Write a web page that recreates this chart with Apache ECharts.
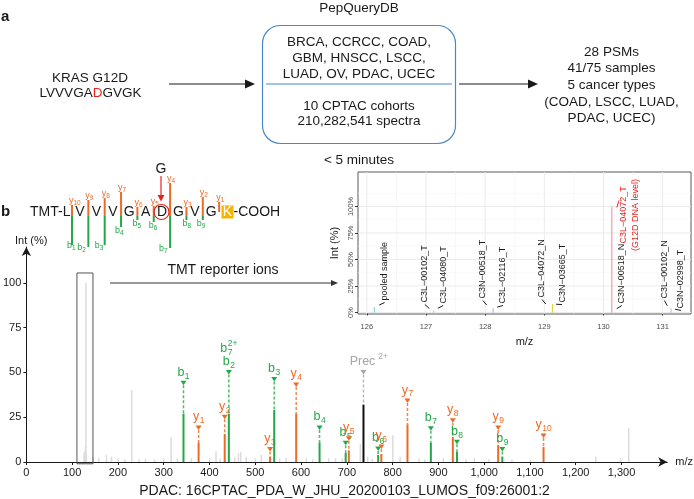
<!DOCTYPE html>
<html><head><meta charset="utf-8">
<script src="https://cdn.jsdelivr.net/npm/echarts@6/dist/echarts.min.js"></script>
<style>html,body{margin:0;padding:0;background:#fff}#c{width:694px;height:499px}</style>
</head><body><div id="c"></div>
<script>
const FONT = '"Liberation Sans", Arial, Helvetica, sans-serif';

// ---------- main spectrum data ----------
const mainXTicks = [0,100,200,300,400,500,600,700,800,900,1000,1100,1200,1300];
const mainYTicks = [0,25,50,75,100];
const bgMz  = [126.13,127.12,128.13,129.14,130.14,131.14,145.1,158.1,175.1,186.1,200.1,215.1,230.2,246.2,260.2,280.2,300.2,316.2,330.2,360.2,400.2,414.3,423.3,455.3,463.3,468.3,480.3,500.3,513.3,553.4,567.4,611.4,625.4,660.4,675.4,690.4,729.5,745.5,755.5,800.5,816.5,857.5,870.5,910.6,960.6,978.6,1010.6,1060.7,1100.7,1243.8,1297.8,1315.8];
const bgInt = [5,3,6,9,100,4,3,2,4,3,2,1.5,40,1.5,2,1.5,2,14,2,2,2,6,2,3,5,5.5,3,2,4,2,2.5,2,1.5,2,2,2,10,3,2,15,3,2,1.5,2,1.5,2,1.5,1.5,1,3,2,19];
const ionNames = ['b_1','y_1','y_2','b_7^2+,b_2','y_3','b_3','y_4','b_4','b_5','y_5','b_6','y_6','y_7','b_7','y_8','b_8','y_9','b_9','y_10'];
const ionMz    = [343.25,376.28,433.30,442.32,532.37,541.39,589.39,640.47,697.49,704.42,768.53,775.46,832.48,883.58,931.55,940.61,1030.62,1039.68,1129.69];
const ionInt   = [27,11,15.6,27,3,29,27,11,5,6.5,4,4.5,21,10.6,14,5.6,9.5,3,8.4];
const ionLabelLevel = [44,19,25,50,7,46,43,19,10.5,13,7.3,8.4,34,18.5,23,11,19,7,14.5];
const precName = 'Prec^2+';
const precMz = [736.4];
const precInt = [32];
const precLabelLevel = [50];
const tmtBox = [[110.5,145.5,-1,105.5]];

// ---------- inset (TMT reporter ions) ----------
const tmtTicks = [126,127,128,129,130,131];
const tmtYTicks = [0,25,50,75,100];
const tmtXMinor = [126.5,127.5,128.5,129.5,130.5];
const tmtYMinor = [12.5,37.5,62.5,87.5,112.5];
const tmtSamples = ['pooled sample','C3L\u221200102_T','C3L\u221204080_T','C3N\u221200518_T','C3L\u221202116_T','C3L\u221204072_N','C3N\u221203665_T','C3N\u221200518_N','C3L\u221204072_T\n(G12D DNA level)','C3L\u221200102_N','C3N\u221202998_T'];
const tmtMz  = [126.128,127.125,127.131,128.128,128.134,129.131,129.138,130.135,130.141,131.138,131.144];
const tmtInt = [5,0.5,2,0.5,4,1,8,0.5,100,0.5,4];
const tmtLabMz  = [126.30,126.98,127.29,127.96,128.30,128.96,129.30,130.31,130.44,131.03,131.31];
const tmtLabLvl = [11.3,9.4,8.5,13.2,8.5,14.2,9.4,8.5,92,13.2,3.8];
const tmtColors = ['#86d6d6','#c9c9de','#c7c2e6','#c4c4e4','#b7b3df','#d7dda0','#e5d33a','#f3b6c4','#f59aa8','#d2c6e6','#cdbfe4'];

const GREEN = '#23a847', ORANGE = '#ef6a25', RED = '#e8231f', GREY = '#a6a6a6';

const mctx = document.createElement('canvas').getContext('2d');
function tw(s, size){ mctx.font = size + 'px ' + FONT; return mctx.measureText(s).width; }
function txt(x, y, s, size, opts){
  opts = opts || {};
  return {type:'text', x:x, y:y, rotation:opts.rot||0, z:opts.z||10, style:{text:s, fill:opts.color||'#1a1a1a',
    font:(opts.bold?'bold ':'') + size + 'px ' + FONT, align:opts.align||'center', verticalAlign:opts.va||'middle',
    textAlign:opts.align||'center', textVerticalAlign:opts.va||'middle', lineHeight:opts.lh}};
}
function parseLab(s){
  const m = s.match(/^([A-Za-z]+)(?:_(\d+))?(?:\^(.+))?$/);
  return {main:m[1], sub:m[2]||'', sup:m[3]||''};
}
function ionLabelEls(s, cx, cy, color){
  const p = parseLab(s);
  const wm = tw(p.main, 12.5), ws = p.sub ? tw(p.sub, 8.5) : 0, wp = p.sup ? tw(p.sup, 8.5) : 0;
  const gap = p.main.length > 1 ? 3 : 0.5;
  const tot = wm + ((ws || wp) ? gap + Math.max(ws, wp) : 0);
  const left = p.main.length > 1 ? cx - wm/2 - 1 : cx - tot/2;
  const els = [txt(left, cy, p.main, 12.5, {color, align:'left'})];
  if (p.sub) els.push(txt(left + wm + gap, cy + 4, p.sub, 8.5, {color, align:'left'}));
  if (p.sup) els.push(txt(left + wm + gap, cy - 5, p.sup, 8.5, {color, align:'left'}));
  return els;
}
function peakRender(colorFn, width){
  return function(params, api){
    const b = api.coord([api.value(0), 0]), t = api.coord([api.value(0), api.value(1)]);
    return {type:'line', shape:{x1:b[0], y1:b[1], x2:t[0], y2:t[1]}, style:{stroke:colorFn(params.dataIndex), lineWidth:width}};
  };
}
function annotRender(names, colorFn){
  return function(params, api){
    const i = params.dataIndex;
    const mz = api.value(0), it = api.value(1), lv = api.value(2);
    const t = api.coord([mz, it]), l = api.coord([mz, lv]);
    const c = colorFn(i);
    const kids = [
      {type:'line', shape:{x1:l[0], y1:l[1]+2, x2:t[0], y2:t[1]}, style:{stroke:c, lineWidth:1.5, lineDash:[3,2], opacity:0.8}},
      {type:'polygon', shape:{points:[[l[0]-3,l[1]-2.5],[l[0]+3,l[1]-2.5],[l[0],l[1]+2]]}, style:{fill:c}}
    ];
    const labs = names[i].split(',').reverse();
    labs.forEach((s, j) => { ionLabelEls(s, l[0], l[1] - 11 - 13*j, c).forEach(e => kids.push(e)); });
    return {type:'group', children:kids};
  };
}

// ---------- static graphics (panel a, peptide diagram) ----------
const G = [];
G.push(txt(1, 17, 'a', 15, {bold:true, align:'left'}));
G.push(txt(359, 8, 'PepQueryDB', 13.5));
G.push({type:'rect', shape:{x:262.5, y:25.5, width:193, height:118, r:18}, style:{fill:'none', stroke:'#4a86c8', lineWidth:1.2}});
G.push({type:'line', shape:{x1:266, y1:84, x2:452, y2:84}, style:{stroke:'#4a86c8', lineWidth:1}});
[['BRCA, CCRCC, COAD,',42],['GBM, HNSCC, LSCC,',58],['LUAD, OV, PDAC, UCEC',74],['10 CPTAC cohorts',106],['210,282,541 spectra',121]]
  .forEach(a => G.push(txt(359, a[1], a[0], 13.5)));
G.push(txt(90, 78, 'KRAS G12D', 13.5));
(function(){
  const w = tw('LVVVGADGVGK', 13.5), left = 90.5 - w/2;
  G.push(txt(left, 93, 'LVVVGA', 13.5, {align:'left'}));
  G.push(txt(left + tw('LVVVGA', 13.5), 93, 'D', 13.5, {align:'left', color:RED}));
  G.push(txt(left + tw('LVVVGAD', 13.5), 93, 'GVGK', 13.5, {align:'left'}));
})();
G.push({type:'line', shape:{x1:169, y1:84, x2:247, y2:84}, style:{stroke:'#1a1a1a', lineWidth:1.2}});
G.push({type:'polygon', shape:{points:[[245,79.5],[255,84],[245,88.5]]}, style:{fill:'#1a1a1a'}});
G.push({type:'line', shape:{x1:459, y1:84, x2:530, y2:84}, style:{stroke:'#1a1a1a', lineWidth:1.2}});
G.push({type:'polygon', shape:{points:[[528,79.5],[538,84],[528,88.5]]}, style:{fill:'#1a1a1a'}});
[['28 PSMs',52],['41/75 samples',68],['5 cancer types',85],['(COAD, LSCC, LUAD,',102],['PDAC, UCEC)',118]]
  .forEach(a => G.push(txt(611.5, a[1], a[0], 13.5)));
G.push(txt(359, 160, '< 5 minutes', 13.5));

// peptide diagram
G.push(txt(1, 212, 'b', 15, {bold:true, align:'left'}));
G.push(txt(30, 212, 'TMT-L', 14, {align:'left'}));
const pepRes = ['V','V','V','G','A','D','G','V','G'];
pepRes.forEach((r, i) => G.push(txt(80 + 16.4*i, 212, r, 14)));
G.push({type:'rect', shape:{x:221.5, y:205.5, width:12, height:13}, style:{fill:'#f5b400'}});
G.push(txt(227.5, 212, 'K', 14, {color:'#ffffff'}));
G.push(txt(233.5, 212, '-COOH', 14, {align:'left'}));
const yTop = [205,200,198,192,207,206,183,207,197,202];
const bBot = [245,247,245,227,220,222,248,220,220];
const bOff = [-5,-11,-10,-6,-5,-5,-11,-4,-6];
for (let k = 0; k < 10; k++){
  const x = 72 + 16.35*k;
  const yb = (k === 9) ? 212 : 216;
  G.push({type:'line', shape:{x1:x, y1:yTop[k], x2:x, y2:yb}, style:{stroke:ORANGE, lineWidth:2}});
  G.push(txt(x - 3, yTop[k] - 4, 'y', 9, {align:'left', color:ORANGE}));
  G.push(txt(x - 3 + tw('y', 9), yTop[k] - 2, String(10 - k), 6.5, {align:'left', color:ORANGE}));
  if (k < 9){
    G.push({type:'line', shape:{x1:x, y1:216, x2:x, y2:bBot[k]}, style:{stroke:GREEN, lineWidth:2}});
    const ly = bBot[k] + (bBot[k] > 240 ? 1 : 4);
    G.push(txt(x + bOff[k], ly, 'b', 9, {align:'left', color:GREEN}));
    G.push(txt(x + bOff[k] + tw('b', 9), ly + 2, String(k + 1), 6.5, {align:'left', color:GREEN}));
  }
}
G.push(txt(161, 169, 'G', 14));
G.push({type:'line', shape:{x1:161, y1:176, x2:161, y2:196}, style:{stroke:RED, lineWidth:1.2}});
G.push({type:'polygon', shape:{points:[[157.5,195],[164.5,195],[161,201.5]]}, style:{fill:RED}});
G.push({type:'circle', shape:{cx:161.5, cy:212, r:7.5}, style:{fill:'none', stroke:RED, lineWidth:1.2}});

// connection + titles
G.push(txt(223, 270, 'TMT reporter ions', 14));
G.push({type:'line', shape:{x1:110, y1:283, x2:332, y2:283}, style:{stroke:'#333', lineWidth:1}});
G.push({type:'polygon', shape:{points:[[331,280],[338,283],[331,286]]}, style:{fill:'#333'}});
G.push(txt(15, 241, 'Int (%)', 11, {align:'left'}));
G.push(txt(344.5, 491, 'PDAC: 16CPTAC_PDA_W_JHU_20200103_LUMOS_f09:26001:2', 14));

const chart = echarts.init(document.getElementById('c'));
const option = {
  animation:false,
  backgroundColor:'#ffffff',
  textStyle:{fontFamily:FONT},
  grid:[
    {left:22, right:26, top:247, bottom:37},
    {left:358, right:3, top:172, bottom:185, show:true, backgroundColor:'#ffffff', borderColor:'#595959', borderWidth:1}
  ],
  xAxis:[
    {gridIndex:0, type:'value', min:0, max:1400,
      axisLine:{show:true, symbol:['none','arrow'], symbolSize:[7,9], lineStyle:{color:'#1a1a1a', width:1}},
      axisTick:{show:true, customValues:mainXTicks, length:3, lineStyle:{color:'#1a1a1a'}},
      axisLabel:{customValues:mainXTicks, formatter:v => v.toLocaleString('en-US'), fontSize:11, color:'#1a1a1a', margin:5},
      splitLine:{show:false},
      name:'m/z', nameLocation:'end', nameGap:8, nameTextStyle:{fontSize:11, color:'#1a1a1a'}},
    {gridIndex:1, type:'value', min:125.85, max:131.48,
      axisLine:{show:false},
      axisTick:{show:true, customValues:tmtTicks, length:3, lineStyle:{color:'#333'}},
      axisLabel:{customValues:tmtTicks, fontSize:7.5, color:'#4d4d4d', margin:9},
      splitLine:{show:false},
      name:'m/z', nameLocation:'middle', nameGap:22, nameTextStyle:{fontSize:11, color:'#1a1a1a'}}
  ],
  yAxis:[
    {gridIndex:0, type:'value', min:0, max:120,
      axisLine:{show:true, symbol:['none','arrow'], symbolSize:[7,9], lineStyle:{color:'#1a1a1a', width:1}},
      axisTick:{show:true, customValues:mainYTicks, length:3, lineStyle:{color:'#1a1a1a'}},
      axisLabel:{customValues:mainYTicks, fontSize:11, color:'#1a1a1a', margin:5},
      splitLine:{show:false}},
    {gridIndex:1, type:'value', min:-1.4, max:132.5,
      axisLine:{show:false},
      axisTick:{show:true, customValues:tmtYTicks, length:3, lineStyle:{color:'#333'}},
      axisLabel:{customValues:tmtYTicks, formatter:v => v + '%', rotate:90, fontSize:7.5, color:'#4d4d4d', margin:3},
      splitLine:{show:false},
      name:'Int (%)', nameLocation:'middle', nameGap:18, nameRotate:90, nameTextStyle:{fontSize:11, color:'#1a1a1a'}}
  ],
  graphic:{elements:G},
  series:[
    {type:'custom', xAxisIndex:0, yAxisIndex:0, z:2, silent:true,
      data:bgMz.map((m,i)=>[m, bgInt[i]]), renderItem:peakRender(()=>'#dcdcdc', 1.5)},
    {type:'custom', xAxisIndex:0, yAxisIndex:0, z:3, silent:true,
      data:tmtBox, renderItem:function(params, api){
        const a = api.coord([api.value(0), api.value(3)]), b = api.coord([api.value(1), api.value(2)]);
        return {type:'rect', shape:{x:a[0], y:a[1], width:b[0]-a[0], height:b[1]-a[1]}, style:{fill:'none', stroke:'#555', lineWidth:1}};
      }},
    {type:'custom', xAxisIndex:0, yAxisIndex:0, z:4, silent:true,
      data:precMz.map((m,i)=>[m, precInt[i], precLabelLevel[i]]),
      renderItem:function(params, api){
        const b = api.coord([api.value(0), 0]), t = api.coord([api.value(0), api.value(1)]);
        const g = annotRender([precName], ()=>GREY)(params, api);
        g.children.unshift({type:'line', shape:{x1:b[0], y1:b[1], x2:t[0], y2:t[1]}, style:{stroke:'#111', lineWidth:2}});
        return g;
      }},
    {type:'custom', xAxisIndex:0, yAxisIndex:0, z:5, silent:true,
      data:ionMz.map((m,i)=>[m, ionInt[i], ionLabelLevel[i]]),
      renderItem:function(params, api){
        const c = ionNames[params.dataIndex].split(',').pop()[0] === 'b' ? GREEN : ORANGE;
        const b = api.coord([api.value(0), 0]), t = api.coord([api.value(0), api.value(1)]);
        const g = annotRender(ionNames, ()=>c)(params, api);
        g.children.unshift({type:'line', shape:{x1:b[0], y1:b[1], x2:t[0], y2:t[1]}, style:{stroke:c, lineWidth:2}});
        return g;
      }},
    // inset panel grid lines (major + minor), drawn through the inset scales
    {type:'custom', xAxisIndex:1, yAxisIndex:1, z:1, silent:true,
      data:[[0]], renderItem:function(params, api){
        const cs = params.coordSys, kids = [];
        const hl = (v, col, w) => { const y = api.coord([126, v])[1]; kids.push({type:'line', shape:{x1:cs.x, y1:y, x2:cs.x+cs.width, y2:y}, style:{stroke:col, lineWidth:w}}); };
        const vl = (v, col, w) => { const x = api.coord([v, 0])[0]; kids.push({type:'line', shape:{x1:x, y1:cs.y, x2:x, y2:cs.y+cs.height}, style:{stroke:col, lineWidth:w}}); };
        tmtYMinor.forEach(v => hl(v, '#f3f3f3', 0.6));
        tmtXMinor.forEach(v => vl(v, '#f3f3f3', 0.6));
        tmtYTicks.forEach(v => hl(v, '#ebebeb', 1));
        tmtTicks.forEach(v => vl(v, '#ebebeb', 1));
        return {type:'group', children:kids};
      }},
    {type:'custom', xAxisIndex:1, yAxisIndex:1, z:3, silent:true,
      data:tmtMz.map((m,i)=>[m, tmtInt[i]]), renderItem:peakRender(i=>tmtColors[i], 1.2)},
    {type:'custom', xAxisIndex:1, yAxisIndex:1, z:4, silent:true,
      data:tmtLabMz.map((m,i)=>[m, tmtLabLvl[i], tmtMz[i], tmtInt[i]]),
      renderItem:function(params, api){
        const i = params.dataIndex;
        const a = api.coord([api.value(0), api.value(1)]);
        const p = api.coord([api.value(2), api.value(3)]);
        const isRed = tmtSamples[i].indexOf('\n') >= 0;
        const kids = [];
        if (isRed){
          kids.push(txt(a[0], a[1], tmtSamples[i], 9, {rot:Math.PI/2, color:RED, lh:12.5}));
          kids.push({type:'line', shape:{x1:p[0]+5, y1:p[1]+1, x2:a[0]-10.5, y2:p[1]-6}, style:{stroke:RED, lineWidth:1}});
        } else {
          kids.push(txt(a[0], a[1], tmtSamples[i], 9, {rot:Math.PI/2, align:'left'}));
          const dx = a[0]-p[0], dy = a[1]+2-p[1], L = Math.sqrt(dx*dx+dy*dy);
          if (L > 4){
            kids.push({type:'line', shape:{x1:p[0]+dx*(L-6)/L, y1:p[1]+dy*(L-6)/L, x2:a[0], y2:a[1]+2}, style:{stroke:'#1a1a1a', lineWidth:1}});
          }
        }
        return {type:'group', children:kids};
      }}
  ]
};
chart.setOption(option);
</script>
</body></html>
